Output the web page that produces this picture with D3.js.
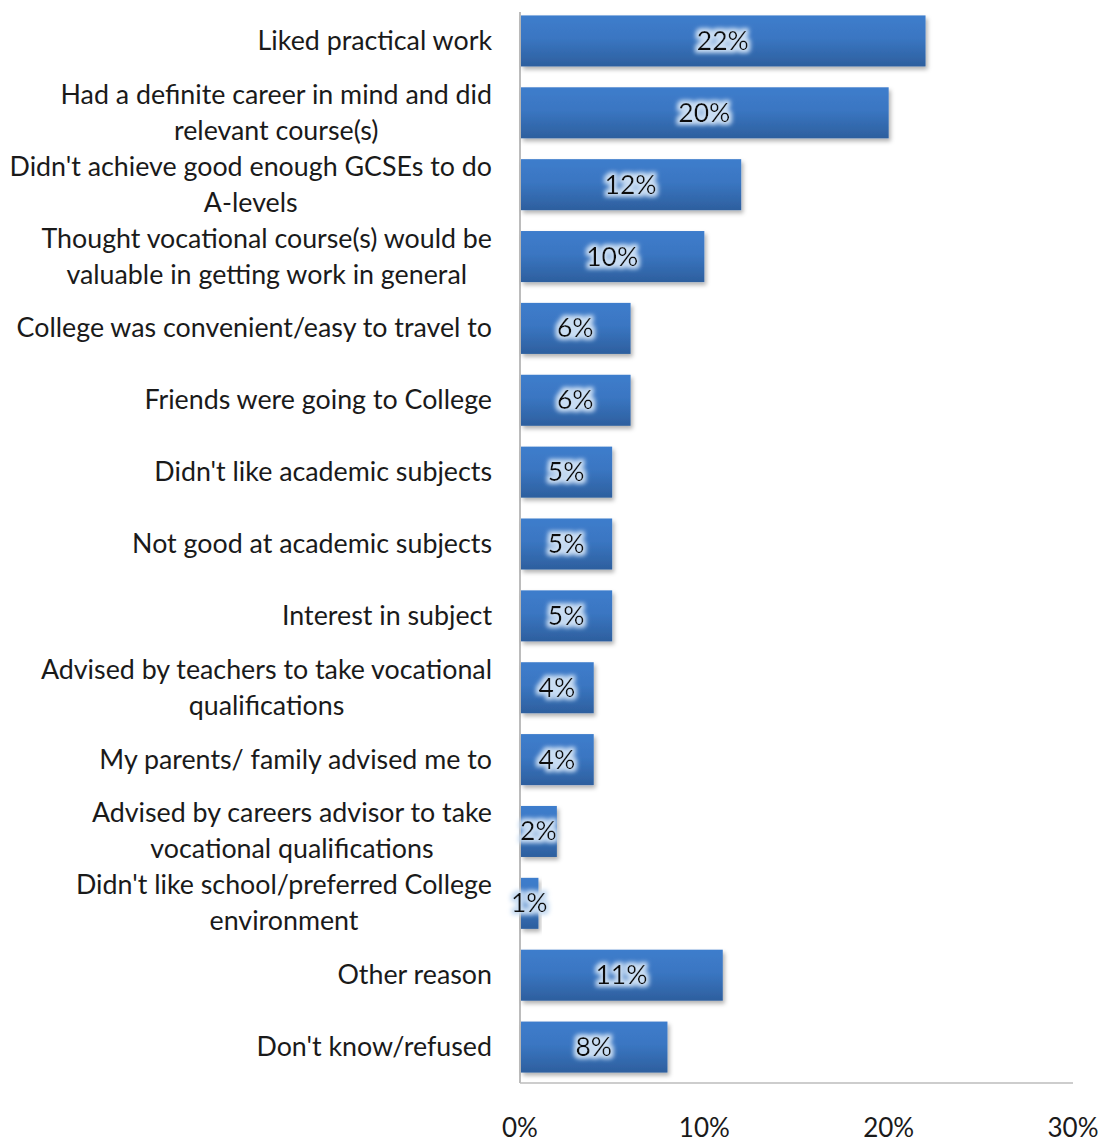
<!DOCTYPE html>
<html>
<head>
<meta charset="utf-8">
<script src="https://cdn.jsdelivr.net/npm/d3@7"></script>
<style>
  body { margin: 0; background: #fff; }
  svg { display: block; font-family: Lato, "Open Sans", sans-serif; }
</style>
</head>
<body>
<div id="chart-area"></div>
<script>
const W = 1101, H = 1142;
const margin = {top: 5, right: 28, bottom: 59, left: 520};

// data
const reasons = [
  ["Liked practical work"],
  ["Had a definite career in mind and did", "relevant course(s)"],
  ["Didn't achieve good enough GCSEs to do", "A-levels"],
  ["Thought vocational course(s) would be", "valuable in getting work in general"],
  ["College was convenient/easy to travel to"],
  ["Friends were going to College"],
  ["Didn't like academic subjects"],
  ["Not good at academic subjects"],
  ["Interest in subject"],
  ["Advised by teachers to take vocational", "qualifications"],
  ["My parents/ family advised me to"],
  ["Advised by careers advisor to take", "vocational qualifications"],
  ["Didn't like school/preferred College", "environment"],
  ["Other reason"],
  ["Don't know/refused"]
];
const percents = [22, 20, 12, 10, 6, 6, 5, 5, 5, 4, 4, 2, 1, 11, 8];
const xTicks = [0, 10, 20, 30];

const svg = d3.select("#chart-area").append("svg")
  .attr("width", W).attr("height", H);

const defs = svg.append("defs");
const grad = defs.append("linearGradient").attr("id", "barGrad")
  .attr("x1", 0).attr("y1", 0).attr("x2", 0).attr("y2", 1);
grad.append("stop").attr("offset", "0%").attr("stop-color", "#3e7dcc");
grad.append("stop").attr("offset", "45%").attr("stop-color", "#3a76c2");
grad.append("stop").attr("offset", "100%").attr("stop-color", "#2d5f9e");

const shadow = defs.append("filter").attr("id", "shadow")
  .attr("x", "-10%").attr("y", "-10%").attr("width", "130%").attr("height", "140%");
shadow.append("feDropShadow").attr("dx", 2).attr("dy", 3).attr("stdDeviation", 2)
  .attr("flood-color", "#000").attr("flood-opacity", 0.3);

const glow = defs.append("filter").attr("id", "glow")
  .attr("x", "-20%").attr("y", "-30%").attr("width", "140%").attr("height", "160%");
glow.append("feMorphology").attr("in", "SourceAlpha").attr("operator", "dilate").attr("radius", 2.5).attr("result", "d");
glow.append("feGaussianBlur").attr("in", "d").attr("stdDeviation", 2).attr("result", "b");
glow.append("feFlood").attr("flood-color", "#c9ddf3").attr("result", "c");
glow.append("feComposite").attr("in", "c").attr("in2", "b").attr("operator", "in").attr("result", "g");
const mrg = glow.append("feMerge");
mrg.append("feMergeNode").attr("in", "g");
mrg.append("feMergeNode").attr("in", "SourceGraphic");

const x = d3.scaleLinear().domain([0, 30]).range([margin.left, W - margin.right]);
const y = d3.scaleBand().domain(d3.range(reasons.length))
  .range([margin.top, H - margin.bottom])
  .paddingInner(0.29).paddingOuter(0.145);

const axisY = H - margin.bottom;

// axis lines
svg.append("line")
  .attr("x1", x(0)).attr("x2", x(0)).attr("y1", 12).attr("y2", axisY)
  .attr("stroke", "#a6a6a6").attr("stroke-width", 1.5);
svg.append("line")
  .attr("x1", x(0)).attr("x2", x(30)).attr("y1", axisY).attr("y2", axisY)
  .attr("stroke", "#bdbdbd").attr("stroke-width", 1.5);

// bars
svg.append("g").selectAll("rect")
  .data(percents)
  .join("rect")
    .attr("x", x(0) + 1)
    .attr("y", (d, i) => y(i))
    .attr("width", d => x(d) - x(0) - 1)
    .attr("height", y.bandwidth())
    .attr("fill", "url(#barGrad)")
    .attr("filter", "url(#shadow)");

// value labels
svg.append("g").selectAll("text")
  .data(percents)
  .join("text")
    .attr("x", d => (x(0) + x(d)) / 2)
    .attr("y", (d, i) => y(i) + y.bandwidth() / 2 + 9)
    .attr("text-anchor", "middle")
    .attr("font-size", 26.5)
    .attr("fill", "#111")
    .attr("filter", "url(#glow)")
    .text(d => d + "%");

// category labels, centred block, right aligned to axis
const labelRight = 492, lineH = 36, fs = 26.8;
reasons.forEach((lines, i) => {
  const g = svg.append("g");
  const cy = y(i) + y.bandwidth() / 2;
  const texts = lines.map((t, j) => g.append("text")
    .attr("font-size", fs)
    .attr("fill", "#1a1a1a")
    .attr("text-anchor", "middle")
    .attr("y", cy + (j - (lines.length - 1) / 2) * lineH + 9)
    .text(t));
  const maxW = d3.max(texts, t => t.node().getComputedTextLength());
  texts.forEach(t => t.attr("x", labelRight - maxW / 2));
});

// x tick labels
svg.append("g").selectAll("text")
  .data(xTicks)
  .join("text")
    .attr("x", d => x(d))
    .attr("y", 1137)
    .attr("text-anchor", "middle")
    .attr("font-size", 26)
    .attr("fill", "#1a1a1a")
    .text(d => d + "%");
</script>
</body>
</html>
